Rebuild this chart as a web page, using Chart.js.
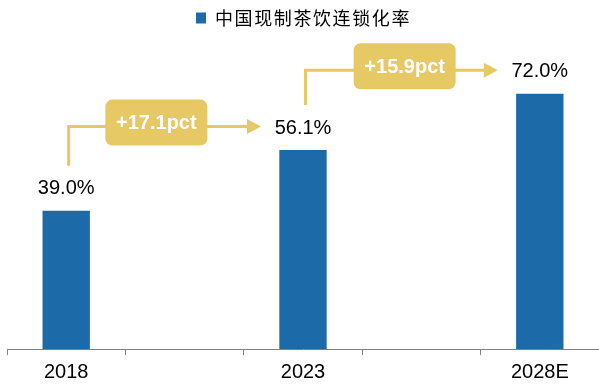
<!DOCTYPE html>
<html>
<head>
<meta charset="utf-8">
<script src="https://cdn.jsdelivr.net/npm/chart.js@4/dist/chart.umd.min.js"></script>
<style>
  html, body { margin: 0; padding: 0; background: #fff; }
  #wrap { width: 599px; height: 389px; position: relative; }
</style>
</head>
<body>
<div id="wrap"><canvas id="c"></canvas></div>
<script>
// Category slots: blank slots keep the wide gaps between the three years
const categories = ['2018', '', '2023', '', '2028E'];
const chainRate = [39.0, null, 56.1, null, 72.0];
const seriesName = '中国现制茶饮连锁化率';
// Pairs of bar indexes joined by a growth arrow
const growthSteps = [[0, 2], [2, 4]];

const BLUE = '#1C6AA7';
const GOLD = '#E6C865';
const NUM_FONT = '"Liberation Sans", Arial, Helvetica, sans-serif';
const CJK_FONT = '"Noto Sans CJK SC", "Noto Sans", sans-serif';

// Percent labels above each bar
const valueLabels = {
  id: 'valueLabels',
  afterDatasetsDraw(chart) {
    const ctx = chart.ctx;
    const meta = chart.getDatasetMeta(0);
    ctx.save();
    ctx.font = '20px ' + NUM_FONT;
    ctx.fillStyle = '#000';
    ctx.textAlign = 'center';
    ctx.textBaseline = 'middle';
    meta.data.forEach((bar, i) => {
      const v = chainRate[i];
      if (v == null) return;
      ctx.fillText(v.toFixed(1) + '%', bar.x, bar.y - 22);
    });
    ctx.restore();
  }
};

// Elbow arrows with a rounded tag showing the change in percentage points
const growthArrows = {
  id: 'growthArrows',
  afterDatasetsDraw(chart, args, opts) {
    const ctx = chart.ctx;
    const meta = chart.getDatasetMeta(0);
    const nudges = opts.tagNudge || [];
    growthSteps.forEach(([a, b], k) => {
      const p = meta.data[a];
      const q = meta.data[b];
      const x0 = p.x + 2.5;
      const yBottom = p.y - 45;
      const yLine = q.y - 23.5;
      const tipX = q.x - 42;
      const headLen = 14;

      ctx.save();
      ctx.strokeStyle = GOLD;
      ctx.fillStyle = GOLD;
      ctx.lineWidth = 3;
      ctx.lineJoin = 'miter';
      ctx.beginPath();
      ctx.moveTo(x0, yBottom);
      ctx.lineTo(x0, yLine);
      ctx.lineTo(tipX - headLen + 1, yLine);
      ctx.stroke();

      ctx.beginPath();
      ctx.moveTo(tipX, yLine);
      ctx.lineTo(tipX - headLen, yLine - 7.5);
      ctx.lineTo(tipX - headLen, yLine + 7.5);
      ctx.closePath();
      ctx.fill();

      const diff = chainRate[b] - chainRate[a];
      const text = '+' + diff.toFixed(1) + 'pct';
      const w = 102, h = 46;
      const cx = (x0 + tipX) / 2 + (nudges[k] || 0);
      const cy = yLine - 4;
      ctx.beginPath();
      ctx.roundRect(cx - w / 2, cy - h / 2, w, h, 7);
      ctx.fill();

      ctx.fillStyle = '#fff';
      ctx.font = 'bold 20px ' + NUM_FONT;
      ctx.textAlign = 'center';
      ctx.textBaseline = 'middle';
      ctx.fillText(text, cx, cy + 1);
      ctx.restore();
    });
  }
};

// Wider tracking for the legend text
const legendTracking = {
  id: 'legendTracking',
  beforeUpdate(chart) {
    const lg = chart.legend;
    if (!lg || lg._tracked) return;
    lg._tracked = true;
    const wrap = (fn) => function () {
      const ctx = this.ctx;
      ctx.save();
      ctx.letterSpacing = '1.6px';
      const r = fn.apply(this, arguments);
      ctx.restore();
      return r;
    };
    lg.fit = wrap(lg.fit);
    lg.draw = wrap(lg.draw);
  }
};

new Chart(document.getElementById('c'), {
  type: 'bar',
  data: {
    labels: categories,
    datasets: [{
      label: seriesName,
      data: chainRate,
      backgroundColor: BLUE,
      borderWidth: 0,
      barPercentage: 0.4,
      categoryPercentage: 1.0
    }]
  },
  options: {
    responsive: true,
    maintainAspectRatio: false,
    animation: false,
    layout: { padding: { left: 7, right: -1, top: 3, bottom: 0 } },
    plugins: {
      legend: {
        display: true,
        position: 'top',
        align: 'center',
        labels: {
          boxWidth: 10,
          boxHeight: 11,
          padding: 6,
          color: '#000',
          font: { family: CJK_FONT, size: 18 }
        }
      },
      tooltip: { enabled: false },
      growthArrows: { tagNudge: [-8.5, 3] }
    },
    scales: {
      x: {
        grid: {
          offset: true,
          drawOnChartArea: false,
          drawTicks: true,
          tickLength: 6,
          color: '#808080',
          lineWidth: 1
        },
        border: { display: true, color: '#808080', width: 1 },
        ticks: {
          color: '#000',
          padding: 4,
          maxRotation: 0,
          autoSkip: false,
          font: { family: NUM_FONT, size: 20, lineHeight: 1.3 }
        }
      },
      y: {
        display: false,
        min: 0,
        max: 88
      }
    }
  },
  plugins: [legendTracking, valueLabels, growthArrows]
});
</script>
</body>
</html>
